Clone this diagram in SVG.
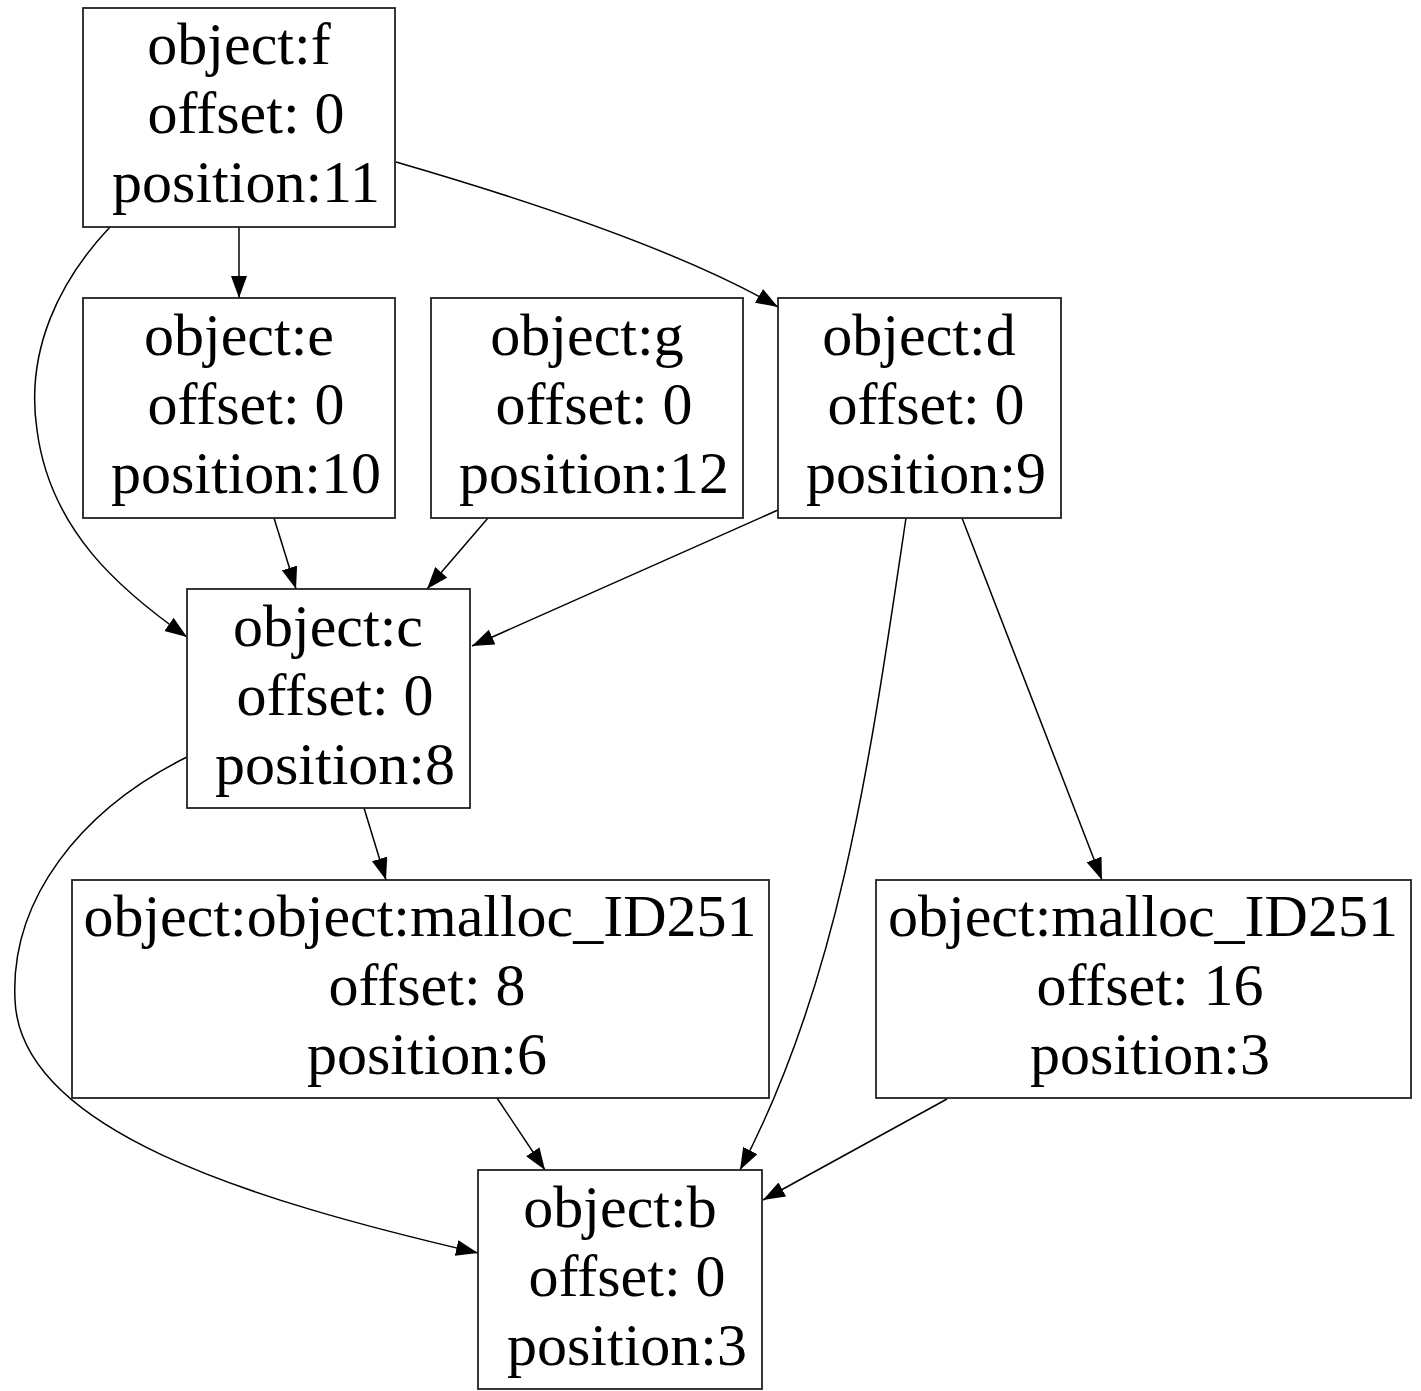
<svg xmlns="http://www.w3.org/2000/svg" width="1421" height="1391" viewBox="0 0 1421 1391">
<defs>
<marker id="arr" markerUnits="userSpaceOnUse" markerWidth="24" markerHeight="18" refX="22" refY="8" orient="auto">
<path d="M0,0 L22,8 L0,16 z" fill="#000"/>
</marker>
<style>
.box{fill:#fff;stroke:#222;stroke-width:1.8}
.t{font-family:"Liberation Serif","Times New Roman",serif;font-size:60px;fill:#000;text-anchor:middle}
.e{fill:none;stroke:#000;stroke-width:1.5;marker-end:url(#arr)}
</style>
</defs>
<rect width="1421" height="1391" fill="#fff"/>
<g id="connectors">
<path class="e" d="M239,227 L239,298"/>
<path class="e" d="M396,162 C520,198 680,250 778,307"/>
<path class="e" d="M110,227 C60,280 25,350 37,430 C50,530 120,590 187,637"/>
<path class="e" d="M274,518 L296,589"/>
<path class="e" d="M488,518 L427,589"/>
<path class="e" d="M778,510 L472,646"/>
<path class="e" d="M906,518 C870,760 840,980 740,1170"/>
<path class="e" d="M962,518 L1102,880"/>
<path class="e" d="M364,808 L386,880"/>
<path class="e" d="M187,757 C80,810 10,900 15,1000 C20,1130 250,1200 478,1253"/>
<path class="e" d="M497,1098 L545,1170"/>
<path class="e" d="M947,1099 L763,1200"/>
</g>
<g id="node-f">
<rect class="box" x="83" y="8" width="312" height="219"/>
<text class="t" x="239" y="64">object:f</text>
<text class="t" x="246" y="133">offset: 0</text>
<text class="t" x="246" y="202">position:11</text>
</g>
<g id="node-e">
<rect class="box" x="83" y="298" width="312" height="220"/>
<text class="t" x="239" y="355">object:e</text>
<text class="t" x="246" y="424">offset: 0</text>
<text class="t" x="246" y="493">position:10</text>
</g>
<g id="node-g">
<rect class="box" x="431" y="298" width="312" height="220"/>
<text class="t" x="587" y="355">object:g</text>
<text class="t" x="594" y="424">offset: 0</text>
<text class="t" x="594" y="493">position:12</text>
</g>
<g id="node-d">
<rect class="box" x="778" y="298" width="283" height="220"/>
<text class="t" x="919" y="355">object:d</text>
<text class="t" x="926" y="424">offset: 0</text>
<text class="t" x="926" y="493">position:9</text>
</g>
<g id="node-c">
<rect class="box" x="187" y="589" width="283" height="219"/>
<text class="t" x="328" y="646">object:c</text>
<text class="t" x="335" y="715">offset: 0</text>
<text class="t" x="335" y="784">position:8</text>
</g>
<g id="node-m1">
<rect class="box" x="72" y="880" width="697" height="218"/>
<text class="t" x="420" y="936">object:object:malloc_ID251</text>
<text class="t" x="427" y="1005">offset: 8</text>
<text class="t" x="427" y="1074">position:6</text>
</g>
<g id="node-m2">
<rect class="box" x="876" y="880" width="535" height="218"/>
<text class="t" x="1143" y="936">object:malloc_ID251</text>
<text class="t" x="1150" y="1005">offset: 16</text>
<text class="t" x="1150" y="1074">position:3</text>
</g>
<g id="node-b">
<rect class="box" x="478" y="1170" width="284" height="219"/>
<text class="t" x="620" y="1227">object:b</text>
<text class="t" x="627" y="1296">offset: 0</text>
<text class="t" x="627" y="1365">position:3</text>
</g>
</svg>
